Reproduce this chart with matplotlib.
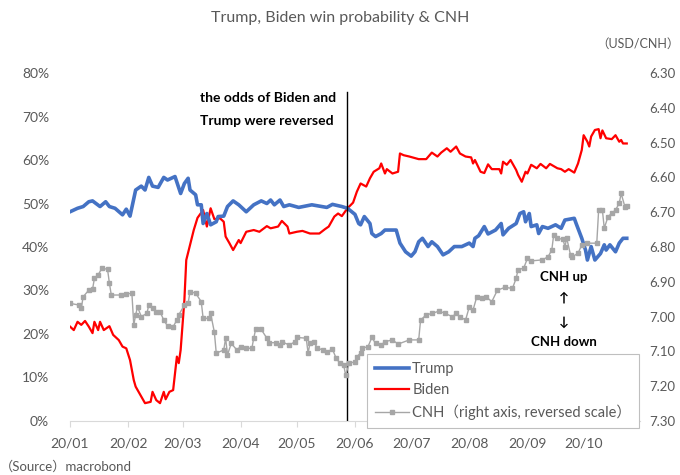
import matplotlib
matplotlib.use("Agg")
import matplotlib.pyplot as plt
import pandas as pd

plt.rcParams['font.family'] = ['Lato', 'Noto Sans CJK JP', 'DejaVu Sans']

# Days since 2020-01-01 and values
trump_day = [0, 4, 7, 10, 12, 16, 19, 21, 24, 28, 30, 32, 35, 38, 40, 42, 44, 47, 50, 52, 56, 59, 61, 63, 64,
             67, 68, 70, 71, 73, 75, 78, 79, 82, 84, 87, 90, 94, 98, 102, 105, 107, 109, 112, 114, 117, 122,
             129, 137, 140, 144, 145, 148, 152, 154, 155, 157, 160, 161, 163, 166, 168, 174, 176, 179, 182,
             184, 186, 188, 191, 193, 196, 199, 202, 205, 209, 213, 215, 216, 218, 221, 223, 227, 230, 231,
             234, 238, 240, 242, 243, 245, 246, 249, 250, 252, 255, 259, 262, 264, 269, 270, 273, 275, 276,
             278, 280, 283, 285, 286, 288, 291, 293, 295, 297]
trump = [48.1, 48.9, 49.3, 50.4, 50.6, 49.3, 50.4, 49.3, 48.9, 47.4, 48.7, 47.1, 53.1, 54.0, 53.1, 56.0, 54.0,
         53.7, 56.0, 55.4, 56.2, 52.3, 54.6, 55.8, 53.1, 52.0, 49.7, 49.7, 45.4, 47.7, 45.1, 45.8, 47.0, 47.1,
         49.3, 50.6, 49.7, 48.1, 49.7, 50.6, 50.0, 50.8, 49.7, 50.8, 49.3, 49.7, 49.1, 49.7, 49.1, 49.8, 49.4,
         49.3, 48.9, 47.5, 45.4, 45.1, 47.0, 45.4, 43.1, 42.4, 43.1, 43.9, 43.9, 40.9, 38.9, 37.9, 38.9, 41.2,
         42.0, 40.1, 41.2, 40.1, 38.2, 38.9, 40.1, 40.1, 40.9, 40.1, 42.0, 42.6, 44.7, 43.0, 43.9, 45.4, 42.8,
         44.3, 45.4, 47.7, 48.1, 45.8, 47.7, 44.7, 45.1, 43.1, 44.7, 44.3, 45.1, 44.3, 46.2, 46.6, 45.4, 42.0,
         39.3, 37.0, 40.1, 37.0, 38.5, 40.5, 39.3, 40.5, 38.9, 40.9, 42.0, 42.0]

biden_day = [0, 2, 4, 6, 8, 10, 12, 13, 15, 16, 18, 21, 23, 26, 28, 30, 32, 34, 35, 37, 40, 43, 44, 46, 48, 50,
             51, 53, 55, 57, 58, 59, 61, 62, 66, 68, 71, 73, 75, 77, 80, 82, 83, 85, 87, 90, 91, 94, 98, 101,
             105, 107, 111, 113, 116, 117, 121, 124, 128, 133, 136, 138, 141, 143, 145, 148, 151, 153, 155, 158,
             160, 162, 165, 166, 168, 169, 172, 175, 176, 178, 181, 186, 190, 193, 196, 198, 201, 203, 206, 208,
             211, 214, 215, 216, 219, 221, 223, 225, 229, 230, 231, 233, 235, 238, 239, 241, 243, 244, 246, 249,
             251, 254, 256, 260, 262, 264, 266, 269, 271, 273, 274, 276, 277, 278, 280, 282, 283, 284, 286, 289,
             291, 293, 294, 295, 297]
biden = [21.7, 20.9, 22.8, 22.1, 23.0, 21.7, 20.2, 22.8, 20.9, 22.8, 20.9, 21.8, 19.8, 18.6, 17.1, 16.7, 14.0,
         9.4, 7.9, 6.4, 4.1, 4.4, 6.7, 4.8, 4.1, 6.7, 5.0, 6.7, 7.1, 14.8, 13.3, 16.3, 27.8, 37.0, 43.9, 46.7,
         48.5, 44.7, 48.9, 46.4, 46.6, 45.8, 42.4, 40.9, 39.3, 41.6, 40.9, 43.5, 43.9, 43.5, 44.8, 44.3, 44.7,
         46.0, 44.7, 43.1, 43.5, 43.7, 43.1, 43.1, 44.1, 44.7, 47.0, 47.7, 47.1, 48.9, 50.2, 52.7, 54.6, 53.9,
         55.8, 57.3, 58.1, 59.2, 56.9, 57.9, 56.9, 57.3, 61.5, 61.1, 60.8, 60.2, 60.2, 61.7, 60.8, 61.7, 62.7,
         61.9, 63.1, 61.5, 60.8, 60.6, 59.2, 60.0, 57.3, 57.0, 59.0, 57.9, 57.9, 56.9, 59.6, 58.9, 60.0, 57.7,
         56.6, 55.0, 57.3, 56.9, 58.9, 58.1, 59.1, 58.1, 59.1, 58.1, 57.9, 57.3, 57.9, 57.1, 59.2, 62.3, 65.7,
         64.2, 63.1, 65.4, 66.9, 67.1, 65.0, 66.8, 65.0, 64.8, 65.7, 64.2, 64.6, 63.8, 63.8]

cnh_day = [0, 5, 6, 7, 10, 12, 13, 15, 17, 20, 21, 22, 27, 30, 33, 34, 35, 36, 38, 41, 42, 44, 46, 48, 50, 52,
           55, 57, 58, 61, 63, 64, 67, 70, 71, 74, 75, 77, 78, 82, 83, 84, 86, 89, 91, 94, 97, 98, 99, 102, 105,
           106, 110, 112, 113, 117, 120, 121, 126, 127, 128, 130, 132, 135, 137, 140, 142, 144, 146, 147, 149,
           152, 153, 155, 156, 159, 161, 163, 166, 168, 172, 175, 181, 186, 187, 190, 193, 197, 200, 204, 206,
           208, 211, 213, 215, 217, 220, 222, 225, 228, 232, 236, 238, 239, 242, 244, 246, 252, 255, 257, 258,
           260, 263, 264, 265, 267, 268, 271, 273, 276, 281, 282, 284, 285, 287, 289, 291, 293, 294, 296, 297]
cnh = [6.962, 6.967, 6.976, 6.943, 6.924, 6.922, 6.890, 6.880, 6.861, 6.864, 6.904, 6.938, 6.938, 6.935, 6.933,
       7.024, 6.995, 6.972, 7.000, 6.991, 6.967, 6.976, 6.986, 6.986, 7.010, 7.027, 7.029, 7.010, 6.995, 6.967,
       6.962, 6.928, 6.933, 6.957, 7.005, 7.005, 6.991, 7.045, 7.105, 7.096, 7.062, 7.110, 7.077, 7.096, 7.086,
       7.091, 7.091, 7.062, 7.037, 7.037, 7.062, 7.075, 7.075, 7.082, 7.072, 7.082, 7.072, 7.060, 7.062, 7.105,
       7.077, 7.072, 7.091, 7.096, 7.101, 7.094, 7.120, 7.134, 7.139, 7.168, 7.134, 7.130, 7.115, 7.105, 7.091,
       7.086, 7.060, 7.077, 7.082, 7.072, 7.067, 7.079, 7.067, 7.067, 7.010, 6.995, 6.991, 6.984, 6.991, 7.000,
       6.991, 7.000, 7.010, 6.972, 6.981, 6.943, 6.947, 6.943, 6.957, 6.924, 6.916, 6.919, 6.890, 6.865, 6.861,
       6.833, 6.840, 6.837, 6.828, 6.809, 6.766, 6.775, 6.778, 6.799, 6.775, 6.823, 6.828, 6.818, 6.794, 6.789,
       6.789, 6.694, 6.694, 6.746, 6.713, 6.703, 6.694, 6.674, 6.646, 6.684, 6.682]

month_ticks = ['2020-01-01', '2020-02-01', '2020-03-01', '2020-04-01', '2020-05-01',
               '2020-06-01', '2020-07-01', '2020-08-01', '2020-09-01', '2020-10-01']
month_labels = ['20/01', '20/02', '20/03', '20/04', '20/05', '20/06', '20/07', '20/08', '20/09', '20/10']
left_ticks = [0, 10, 20, 30, 40, 50, 60, 70, 80]
right_ticks = [6.30, 6.40, 6.50, 6.60, 6.70, 6.80, 6.90, 7.00, 7.10, 7.20, 7.30]
reversal_date = '2020-05-28'

start = pd.Timestamp('2020-01-01')
def to_dates(days):
    return start + pd.to_timedelta(days, unit='D')

GRAY_TXT = '#595959'
fig = plt.figure(figsize=(6.8, 4.75), dpi=100)
ax = fig.add_axes([0.103, 0.1137, 0.838, 0.7326])
ax2 = ax.twinx()

ax.plot(to_dates(trump_day), trump, color='#4472c4', lw=2.6, zorder=3, label='Trump')
ax.plot(to_dates(biden_day), biden, color='#ff0000', lw=1.6, zorder=2, label='Biden')
ax2.plot(to_dates(cnh_day), cnh, color='#a6a6a6', lw=1.0, marker='s', ms=2.2, zorder=2,
         label='CNH（right axis, reversed scale）')

ax.axvline(pd.to_datetime(reversal_date), ymin=0, ymax=75.6 / 80, color='black', lw=1.0, zorder=5)

ax.set_ylim(0, 80)
ax.set_yticks(left_ticks)
ax.set_yticklabels([f'{v}%' for v in left_ticks])
ax2.set_ylim(7.30, 6.30)
ax2.set_yticks(right_ticks)
ax2.set_yticklabels([f'{v:.2f}' for v in right_ticks])

ax.set_xlim(pd.Timestamp('2020-01-01'), pd.Timestamp('2020-10-31'))
ax.set_xticks(pd.to_datetime(month_ticks))
ax.set_xticklabels(month_labels)

for a in (ax, ax2):
    for s in ('top', 'right', 'left'):
        a.spines[s].set_visible(False)
    a.spines['bottom'].set_color('#d9d9d9')
ax2.spines['bottom'].set_visible(False)
ax.tick_params(axis='y', length=0, pad=15, labelsize=10, labelcolor=GRAY_TXT)
ax2.tick_params(axis='y', length=0, pad=7, labelsize=9.5, labelcolor=GRAY_TXT)
ax.tick_params(axis='x', length=4, color='#d9d9d9', pad=8, labelsize=10, labelcolor=GRAY_TXT)

fig.text(0.5, 1 - 18 / 475, 'Trump, Biden win probability & CNH', ha='center', va='center',
         fontsize=11.5, color=GRAY_TXT)
fig.text(1.0, 1 - 44 / 475, '（USD/CNH）', ha='right', va='center', fontsize=9, color=GRAY_TXT)
fig.text(0.0, 1 - 466 / 475, '（Source）macrobond', ha='left', va='center', fontsize=9.5, color=GRAY_TXT)

fig.text(200 / 680, 1 - 98 / 475, 'the odds of Biden and', ha='left', va='center',
         fontsize=10, fontweight='bold', color='black')
fig.text(200 / 680, 1 - 121 / 475, 'Trump were reversed', ha='left', va='center',
         fontsize=10, fontweight='bold', color='black')
for txt, y in [('CNH up', 277), ('↑', 298), ('↓', 322), ('CNH down', 342)]:
    fig.text(564 / 680, 1 - y / 475, txt, ha='center', va='center', fontsize=9.5, fontweight='bold',
             color='black', family=['Lato', 'DejaVu Sans'])

h1, l1 = ax.get_legend_handles_labels()
h2, l2 = ax2.get_legend_handles_labels()
leg = ax2.legend(h1 + h2, l1 + l2, loc='upper left', bbox_to_anchor=((367 - 70) / 570, (421 - 354) / 348),
                 borderaxespad=0, frameon=True, fancybox=False, edgecolor='#bfbfbf', facecolor='white',
                 framealpha=1, fontsize=10.5, handlelength=2.3, handletextpad=0.25, labelspacing=0.5,
                 borderpad=0.55)
leg.get_frame().set_linewidth(0.8)
for t in leg.get_texts():
    t.set_color(GRAY_TXT)
leg.set_zorder(10)

fig.savefig('out.png', dpi=100)
